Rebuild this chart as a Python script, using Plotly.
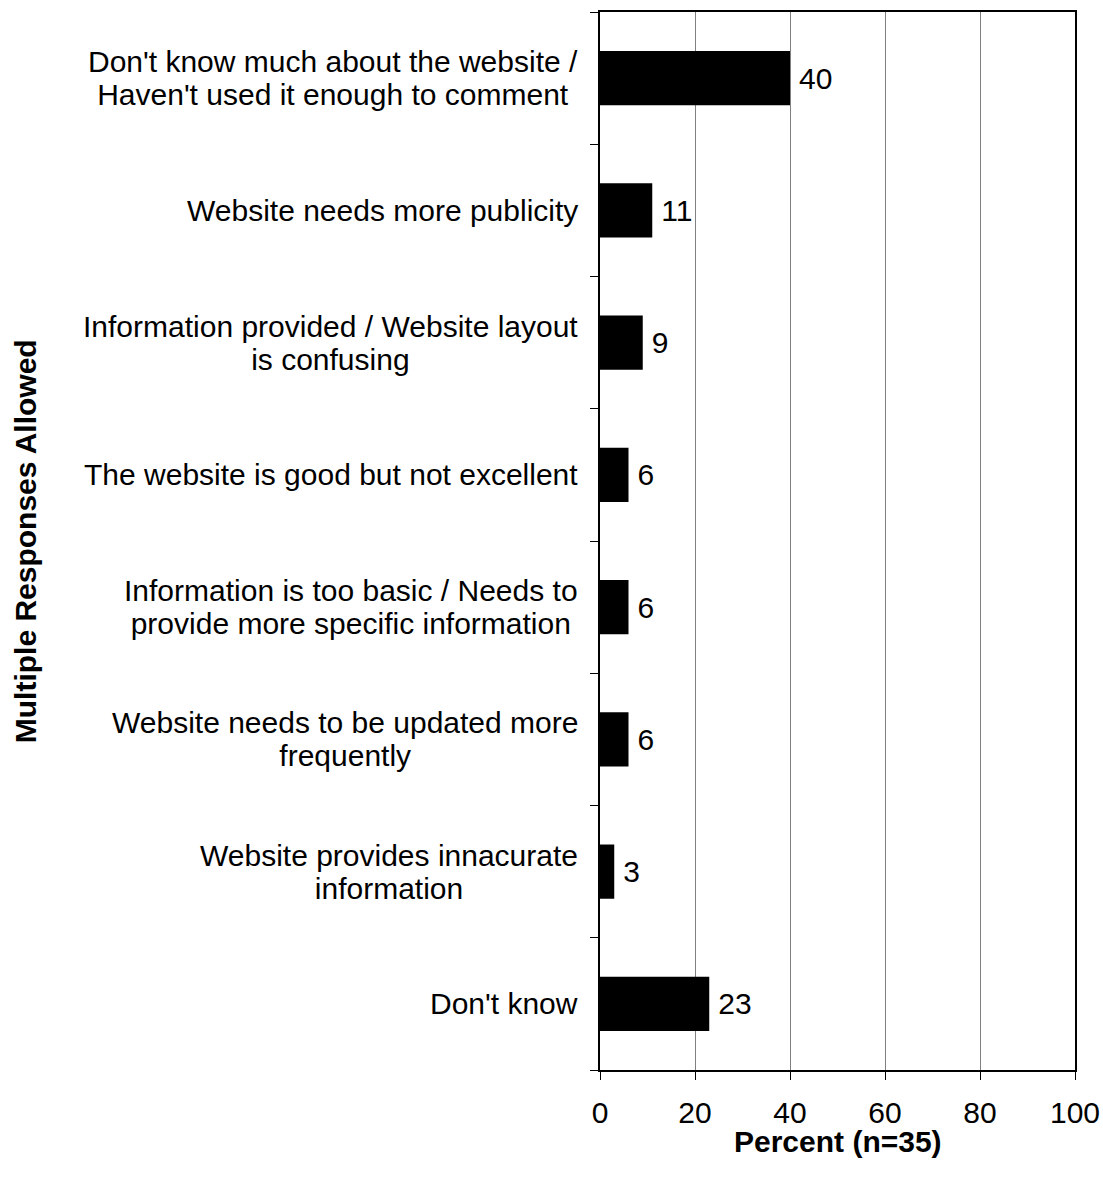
import plotly.graph_objects as go

categories = [
    "Don't know much about the website /<br>Haven't used it enough to comment",
    "Website needs more publicity",
    "Information provided / Website layout<br>is confusing",
    "The website is good but not excellent",
    "Information is too basic / Needs to<br>provide more specific information",
    "Website needs to be updated more<br>frequently",
    "Website provides innacurate<br>information",
    "Don't know",
]
values = [40, 11, 9, 6, 6, 6, 3, 23]
x_ticks = [0, 20, 40, 60, 80, 100]
x_title = "Percent (n=35)"
y_title = "Multiple Responses Allowed"

FONT = "Liberation Sans, Arial, sans-serif"
FS = 30

fig = go.Figure()
fig.add_trace(go.Bar(
    x=values,
    y=list(range(len(categories))),
    orientation="h",
    marker=dict(color="black", line=dict(width=0)),
    width=0.41,
    texttemplate="\u2009%{x}",
    textposition="outside",
    textfont=dict(family=FONT, size=FS, color="black"),
    cliponaxis=False,
))

for i, c in enumerate(categories):
    fig.add_annotation(
        x=0, xref="paper", y=i, yref="y",
        text=c, showarrow=False, xanchor="right", yanchor="middle",
        align="center", xshift=-20,
        font=dict(family=FONT, size=FS, color="black"),
    )

fig.add_annotation(
    x=-1.21, xref="paper", y=0.5, yref="paper",
    text="<b>" + y_title + "</b>", showarrow=False, textangle=-90,
    xanchor="center", yanchor="middle",
    font=dict(family=FONT, size=FS, color="black"),
)
fig.add_annotation(
    x=0.5, xref="paper", y=-0.068, yref="paper",
    text="<b>" + x_title + "</b>", showarrow=False,
    xanchor="center", yanchor="middle",
    font=dict(family=FONT, size=FS, color="black"),
)

fig.update_layout(
    width=1103, height=1178,
    margin=dict(l=600, r=28, t=12, b=108, autoexpand=False),
    paper_bgcolor="white", plot_bgcolor="white",
    showlegend=False,
)
fig.update_xaxes(
    range=[0, 100], tickvals=x_ticks, ticktext=[str(t) for t in x_ticks],
    showgrid=True, gridcolor="#808080", gridwidth=1,
    showline=True, linecolor="black", linewidth=2, mirror=True,
    ticks="outside", ticklen=8, tickcolor="black", tickwidth=1,
    tickfont=dict(family=FONT, size=FS, color="black"),
    ticklabelstandoff=7, ticklabeloverflow="allow",
    automargin=False,
    zeroline=False, fixedrange=True,
)
fig.update_yaxes(
    range=[len(categories) - 0.5, -0.5],
    tickvals=[i - 0.5 for i in range(len(categories) + 1)],
    showticklabels=False,
    showgrid=False,
    showline=True, linecolor="black", linewidth=2, mirror=True,
    ticks="outside", ticklen=8, tickcolor="black", tickwidth=1,
    automargin=False,
    zeroline=False, fixedrange=True,
)

post = """
document.body.style.margin = '0';
document.body.style.overflow = 'hidden';
var gd = document.getElementById('{plot_id}');
function tightenLines() {
  var SP = 1.08, BASE = 1.3;
  document.querySelectorAll('.annotation-text').forEach(function (t) {
    var lines = t.querySelectorAll('tspan.line');
    var n = lines.length;
    if (n < 2) return;
    lines.forEach(function (l, k) {
      l.setAttribute('dy', (k * SP + (n - 1) * (BASE - SP) / 2) + 'em');
    });
  });
}
tightenLines();
if (gd && gd.on) { gd.on('plotly_afterplot', tightenLines); }
setTimeout(tightenLines, 50);
setTimeout(tightenLines, 300);
"""

fig.write_html("out.html", post_script=post, config={"displayModeBar": False})
